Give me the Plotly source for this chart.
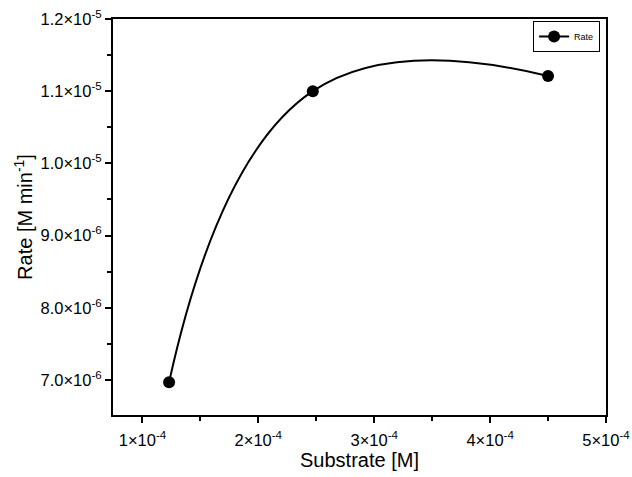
import plotly.graph_objects as go

substrate = [1.23e-4, 2.47e-4, 4.50e-4]
rate = [6.97e-6, 1.100e-5, 1.121e-5]

x_ticks = [1e-4, 2e-4, 3e-4, 4e-4, 5e-4]
x_ticktext = ["1×10<sup>-4</sup>", "2×10<sup>-4</sup>", "3×10<sup>-4</sup>", "4×10<sup>-4</sup>", "5×10<sup>-4</sup>"]
x_minor = [1.5e-4, 2.5e-4, 3.5e-4, 4.5e-4]
y_ticks = [7.0e-6, 8.0e-6, 9.0e-6, 1.0e-5, 1.1e-5, 1.2e-5]
y_ticktext = ["7.0×10<sup>-6</sup>", "8.0×10<sup>-6</sup>", "9.0×10<sup>-6</sup>",
              "1.0×10<sup>-5</sup>", "1.1×10<sup>-5</sup>", "1.2×10<sup>-5</sup>"]
y_minor = [7.5e-6, 8.5e-6, 9.5e-6, 1.05e-5, 1.15e-5]

FONT = "Liberation Sans, Arial"

fig = go.Figure()
fig.add_trace(go.Scatter(
    x=substrate, y=rate, mode="lines+markers", name="Rate",
    line=dict(color="black", width=2, shape="spline", smoothing=1.3),
    marker=dict(color="black", size=12),
))

axis_common = dict(
    showline=True, linecolor="black", linewidth=2, mirror=True,
    ticks="outside", ticklen=6, tickwidth=1.5, tickcolor="black",
    showgrid=False, zeroline=False, automargin=False,
    tickfont=dict(family=FONT, size=16.5, color="black"),
    title_font=dict(family=FONT, size=20, color="black"),
)

fig.update_xaxes(
    range=[0.746e-4, 5e-4], tickmode="array", tickvals=x_ticks, ticktext=x_ticktext,
    minor=dict(tickmode="array", tickvals=x_minor, ticks="outside", ticklen=4, tickcolor="black", tickwidth=1.5),
    ticklabelstandoff=3,
    title_text="Substrate [M]", title_standoff=4, **axis_common)
fig.update_yaxes(
    range=[6.515e-6, 1.2e-5], tickmode="array", tickvals=y_ticks, ticktext=y_ticktext,
    minor=dict(tickmode="array", tickvals=y_minor, ticks="outside", ticklen=4, tickcolor="black", tickwidth=1.5),
    title_text="Rate [M min<sup>-1</sup>]", title_standoff=2, **axis_common)

fig.update_layout(
    width=632, height=477,
    margin=dict(l=113, r=26, t=19, b=62),
    paper_bgcolor="white", plot_bgcolor="white",
    showlegend=True,
    legend=dict(x=0.988, y=0.995, xanchor="right", yanchor="top",
                bordercolor="black", borderwidth=1, bgcolor="white",
                font=dict(family=FONT, size=9, color="black"),
                itemwidth=30, tracegroupgap=0, itemsizing="trace"),
)

fig.write_html("out.html", config={"displayModeBar": False},
               post_script="document.body.style.margin='0px';")
